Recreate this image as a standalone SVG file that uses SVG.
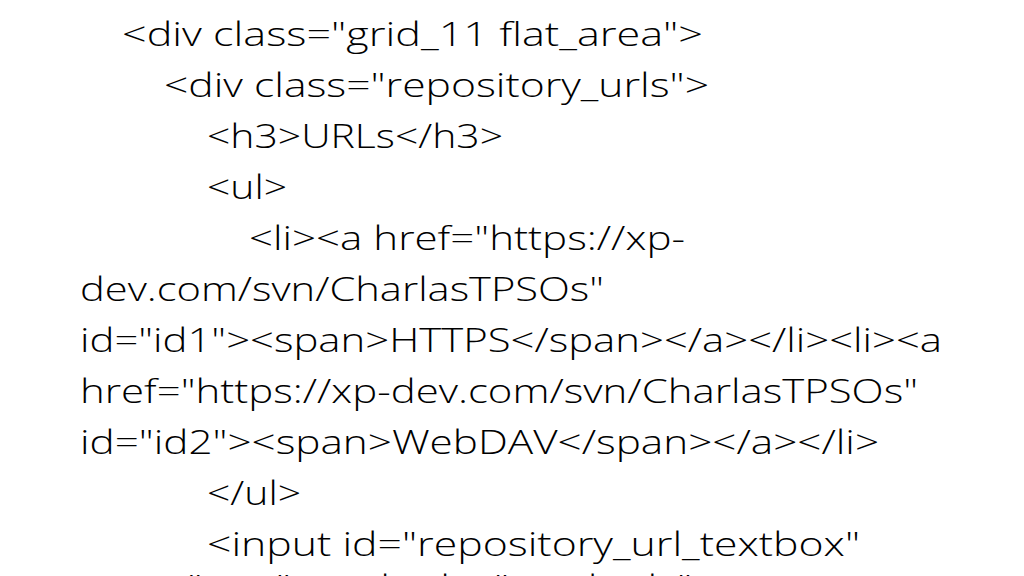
<svg xmlns="http://www.w3.org/2000/svg" width="1024" height="576" viewBox="0 0 1024 576">
<style>
  text { font-family: "Open Sans", Lato, "Liberation Sans", sans-serif; font-weight: 300; font-size: 33px; fill: #000; }
</style>
<rect width="1024" height="576" fill="#fff"/>
<g id="code">
  <text x="122" y="-1" textLength="100" lengthAdjust="spacingAndGlyphs">&lt;/div&gt;</text>
  <text x="122" y="46" textLength="581" lengthAdjust="spacingAndGlyphs">&lt;div class="grid_11 flat_area"&gt;</text>
  <text x="164" y="97" textLength="545" lengthAdjust="spacingAndGlyphs">&lt;div class="repository_urls"&gt;</text>
  <text x="207" y="148" textLength="296" lengthAdjust="spacingAndGlyphs">&lt;h3&gt;URLs&lt;/h3&gt;</text>
  <text x="207" y="199" textLength="80" lengthAdjust="spacingAndGlyphs">&lt;ul&gt;</text>
  <text x="249" y="250" textLength="436" lengthAdjust="spacingAndGlyphs">&lt;li&gt;&lt;a href="https://xp-</text>
  <text x="80" y="301" textLength="524" lengthAdjust="spacingAndGlyphs">dev.com/svn/CharlasTPSOs"</text>
  <text x="80" y="352" textLength="862" lengthAdjust="spacingAndGlyphs">id="id1"&gt;&lt;span&gt;HTTPS&lt;/span&gt;&lt;/a&gt;&lt;/li&gt;&lt;li&gt;&lt;a</text>
  <text x="80" y="403" textLength="838" lengthAdjust="spacingAndGlyphs">href="https://xp-dev.com/svn/CharlasTPSOs"</text>
  <text x="80" y="454" textLength="799" lengthAdjust="spacingAndGlyphs">id="id2"&gt;&lt;span&gt;WebDAV&lt;/span&gt;&lt;/a&gt;&lt;/li&gt;</text>
  <text x="207" y="505" textLength="94" lengthAdjust="spacingAndGlyphs">&lt;/ul&gt;</text>
  <text x="207" y="556" textLength="653" lengthAdjust="spacingAndGlyphs">&lt;input id="repository_url_textbox"</text>
  <text x="80" y="599" textLength="612" lengthAdjust="spacingAndGlyphs">type="text" readonly="readonly"</text>
</g>
</svg>
